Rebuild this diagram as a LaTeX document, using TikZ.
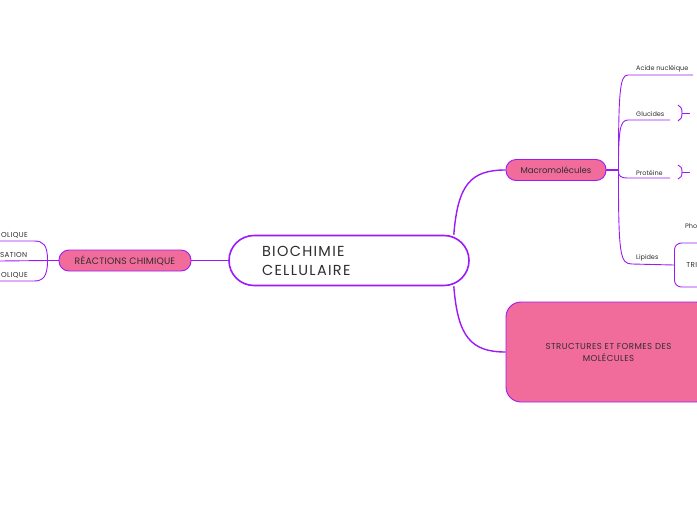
\documentclass[tikz,border=0pt]{standalone}
\usepackage{fontspec}
\setmainfont{Poppins}
\usetikzlibrary{positioning}
\definecolor{mmpurple}{HTML}{9B1AF7}
\definecolor{mmpink}{HTML}{F26C9B}
\definecolor{mmtext}{HTML}{2E2E2E}
\tikzset{
	mainnode/.style = {shape=rectangle, rounded corners=25pt,
		draw=mmpurple, line width=1.6pt, fill=white, text=mmtext,
		align=left, text width=174pt, inner xsep=33pt, minimum height=50pt,
		font=\fontsize{14.5}{19}\selectfont\addfontfeature{LetterSpace=9}},
	topic/.style    = {shape=rectangle, rounded corners=10pt,
		draw=mmpurple, line width=0.9pt, fill=mmpink, text=mmtext,
		minimum height=21pt, font=\fontsize{8.5}{10}\selectfont},
	captopic/.style = {topic, font=\fontsize{9.3}{10}\selectfont\addfontfeature{LetterSpace=2}},
	bigtopic/.style = {topic, rounded corners=15pt, align=center,
		font=\fontsize{8.6}{12}\selectfont\addfontfeature{LetterSpace=5}},
	leaf/.style     = {text=mmtext, inner sep=1pt, font=\fontsize{6.5}{8}\selectfont},
	capleaf/.style  = {leaf, font=\fontsize{7.2}{8}\selectfont\addfontfeature{LetterSpace=5}},
	subbox/.style   = {shape=rectangle, rounded corners=7pt, draw=mmpurple,
		line width=0.9pt, fill=white, text=mmtext, align=left,
		text width=70pt, inner xsep=12pt, minimum height=44pt,
		font=\fontsize{7.2}{8}\selectfont\addfontfeature{LetterSpace=5}},
	link/.style     = {draw=mmpurple, line width=1.4pt},
	sublink/.style  = {draw=mmpurple, line width=0.9pt}
}

\begin{document}
\begin{tikzpicture}[x=1pt, y=-1pt]
\useasboundingbox (0,0) rectangle (697,520);
\clip (0,0) rectangle (697,520);

% main topics
\node [mainnode] (bio) at (349,260.5) {BIOCHIMIE\\CELLULAIRE};
\node [captopic, minimum width=132pt] (rea) at (125,260.5) {RÉACTIONS CHIMIQUE};
\node [topic, minimum width=100pt] (macro) at (556,170) {Macromolécules};
\node [bigtopic, minimum width=205pt, minimum height=100pt] (struct) at (608.5,352)
	{STRUCTURES ET FORMES DES\\MOLÉCULES};

\draw [link] (bio.west) -- (rea.east);
\draw [link] ([xshift=-16pt]bio.north east) .. controls +(4,-50) and +(-35,0) .. (macro.west);
\draw [link] ([xshift=-16pt]bio.south east) .. controls +(4,50) and +(-35,0) .. (struct.west);

% left side
\draw [link] (rea.west) -- ++(-11,0) coordinate (rroot);
\coordinate (anaR) at (34,241);
\coordinate (conR) at (0,261);
\coordinate (catR) at (34,281);
\node [capleaf, above left=1pt and 5pt of anaR] (ana) {OLIQUE};
\node [capleaf, anchor=south east] (con) at (28.5,259) {SATION};
\node [capleaf, above left=1pt and 5pt of catR] (cat) {OLIQUE};
\draw [sublink] (rroot) .. controls +(0,-16) and +(9,0) .. (anaR) -- ++(-34,0);
\draw [sublink] (rroot) -- (conR);
\draw [sublink] (rroot) .. controls +(0,16) and +(9,0) .. (catR) -- ++(-34,0);

% Macromolecules
\draw [link] (macro.east) -- ++(12,0) coordinate (mroot);
\coordinate (acideL) at (628,75);
\coordinate (glucL) at (628,120);
\coordinate (protL) at (628,178);
\coordinate (lipL) at (632,264);
\node [leaf, above right=2pt and 7pt of acideL] (acide) {Acide nucléique};
\node [leaf, above right=2pt and 7pt of glucL] (gluc) {Glucides};
\node [leaf, above right=1.5pt and 7pt of protL] (prot) {Protéine};
\node [leaf, above right=1.5pt and 3pt of lipL] (lip) {Lipides};
\node [subbox, anchor=west] (tri) at (674,265) {TRI};
\node [leaf, anchor=west] (pho) at (684,226) {Pho};

\draw [sublink] (mroot) .. controls +(0,-80) and +(-8,0) .. (acideL) -- ++(65,0);
\draw [sublink] (mroot) .. controls +(0,-40) and +(-8,0) .. (glucL) -- ++(42,0);
\draw [sublink] (mroot) .. controls +(0,6) and +(-8,0) .. (protL) -- ++(42,0);
\draw [sublink] (mroot) .. controls +(0,85) and +(-12,0) .. (lipL) -- (tri.west);

% brackets to hidden children
\coordinate (glucB) at (682,113);
\coordinate (protB) at (682,172);
\draw [sublink] ([shift={(-4,-8)}]glucB) .. controls +(3,1) and +(0,-4) .. (glucB)
	.. controls +(0,4) and +(3,-1) .. ([shift={(-4,8)}]glucB);
\draw [sublink] (glucB) -- ++(8,0);
\draw [sublink] ([shift={(-4,-7)}]protB) .. controls +(3,1) and +(0,-4) .. (protB)
	.. controls +(0,4) and +(3,-1) .. ([shift={(-4,7)}]protB);
\draw [sublink] (protB) -- ++(8,0);
\end{tikzpicture}
\end{document}
